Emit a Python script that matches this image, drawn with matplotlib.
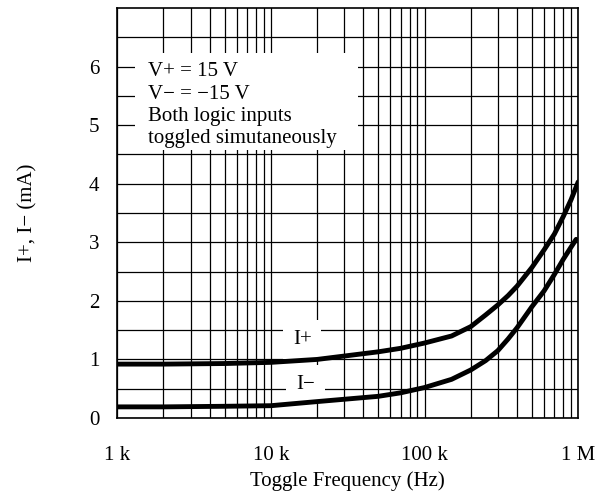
import matplotlib.pyplot as plt
from matplotlib.patches import Rectangle
from matplotlib.ticker import FixedLocator, NullFormatter

plt.rcParams['font.family'] = ['Liberation Serif', 'DejaVu Serif']

# values
freq_hz = [1e3, 2e3, 5e3, 1e4, 2e4, 5e4, 7e4, 1e5, 1.5e5, 2e5, 2.5e5, 3e5, 3.5e5, 4e5,
           5e5, 6e5, 7e5, 8e5, 9e5, 1e6]
i_plus = [0.92, 0.92, 0.93, 0.95, 1.0, 1.13, 1.19, 1.28, 1.40, 1.56, 1.76, 1.93, 2.09, 2.25,
          2.57, 2.87, 3.14, 3.44, 3.73, 4.03]
freq_minus_hz = [1e3, 2e3, 5e3, 1e4, 2e4, 5e4, 7e4, 1e5, 1.5e5, 2e5, 2.5e5, 3e5, 3.5e5, 4e5,
                 5e5, 6e5, 7e5, 8e5, 9e5, 9.7e5]
i_minus = [0.19, 0.19, 0.2, 0.21, 0.28, 0.37, 0.43, 0.52, 0.66, 0.82, 0.98, 1.15, 1.35, 1.54,
           1.9, 2.17, 2.45, 2.71, 2.92, 3.05]

x_ticks = [1e3, 1e4, 1e5, 1e6]
x_labels = ["1 k", "10 k", "100 k", "1 M"]
y_ticks = [0, 1, 2, 3, 4, 5, 6]

fig = plt.figure(figsize=(6.01, 5.0), dpi=100)
ax = fig.add_axes([0.195, 0.164, 0.767, 0.820])

ax.set_xscale('log')
ax.set_xlim(1e3, 1e6)
ax.set_ylim(0, 7)

minor = [m * 10 ** d for d in range(3, 6) for m in range(2, 10)]
ax.xaxis.set_major_locator(FixedLocator(x_ticks))
ax.xaxis.set_minor_locator(FixedLocator(minor))
ax.xaxis.set_minor_formatter(NullFormatter())
ax.set_xticklabels(x_labels)
ax.set_yticks(y_ticks)
ax.yaxis.set_minor_locator(FixedLocator([v + 0.5 for v in range(7)]))

ax.grid(True, which='both', color='black', linewidth=0.9)
ax.tick_params(axis='x', which='both', length=0, labelsize=15, pad=20)
ax.tick_params(axis='y', which='both', length=0, labelsize=15, pad=13)
for s in ax.spines.values():
    s.set_linewidth(1.2)

ax.plot(freq_hz, i_plus, color='black', linewidth=3.5, solid_capstyle='round',
        solid_joinstyle='round', zorder=5)
ax.plot(freq_minus_hz, i_minus, color='black', linewidth=3.5, solid_capstyle='round',
        solid_joinstyle='round', zorder=5)

ax.text(1.6e4, 1.34, "I+", fontsize=15, ha='center', va='center', zorder=4,
        bbox=dict(facecolor='white', edgecolor='none', pad=7))
ax.text(1.68e4, 0.57, "I\u2212", fontsize=15, ha='center', va='center', zorder=4,
        bbox=dict(facecolor='white', edgecolor='none', pad=7))

# white panel behind the conditions note
ax.add_patch(Rectangle((0.039, 0.654), 0.484, 0.236, transform=ax.transAxes,
                       facecolor='white', edgecolor='none', zorder=3))
ax.text(1.59e3, 6.07, "V+ = 15 V\nV\u2212 = \u221215 V\nBoth logic inputs\ntoggled simutaneously",
        fontsize=15, ha='left', va='top', linespacing=1.22, zorder=6)

ax.set_xlabel("Toggle Frequency (Hz)", fontsize=15, labelpad=5)
ax.set_ylabel("I+, I\u2212 (mA)", fontsize=15, labelpad=37)

fig.savefig("out.png", dpi=100)
